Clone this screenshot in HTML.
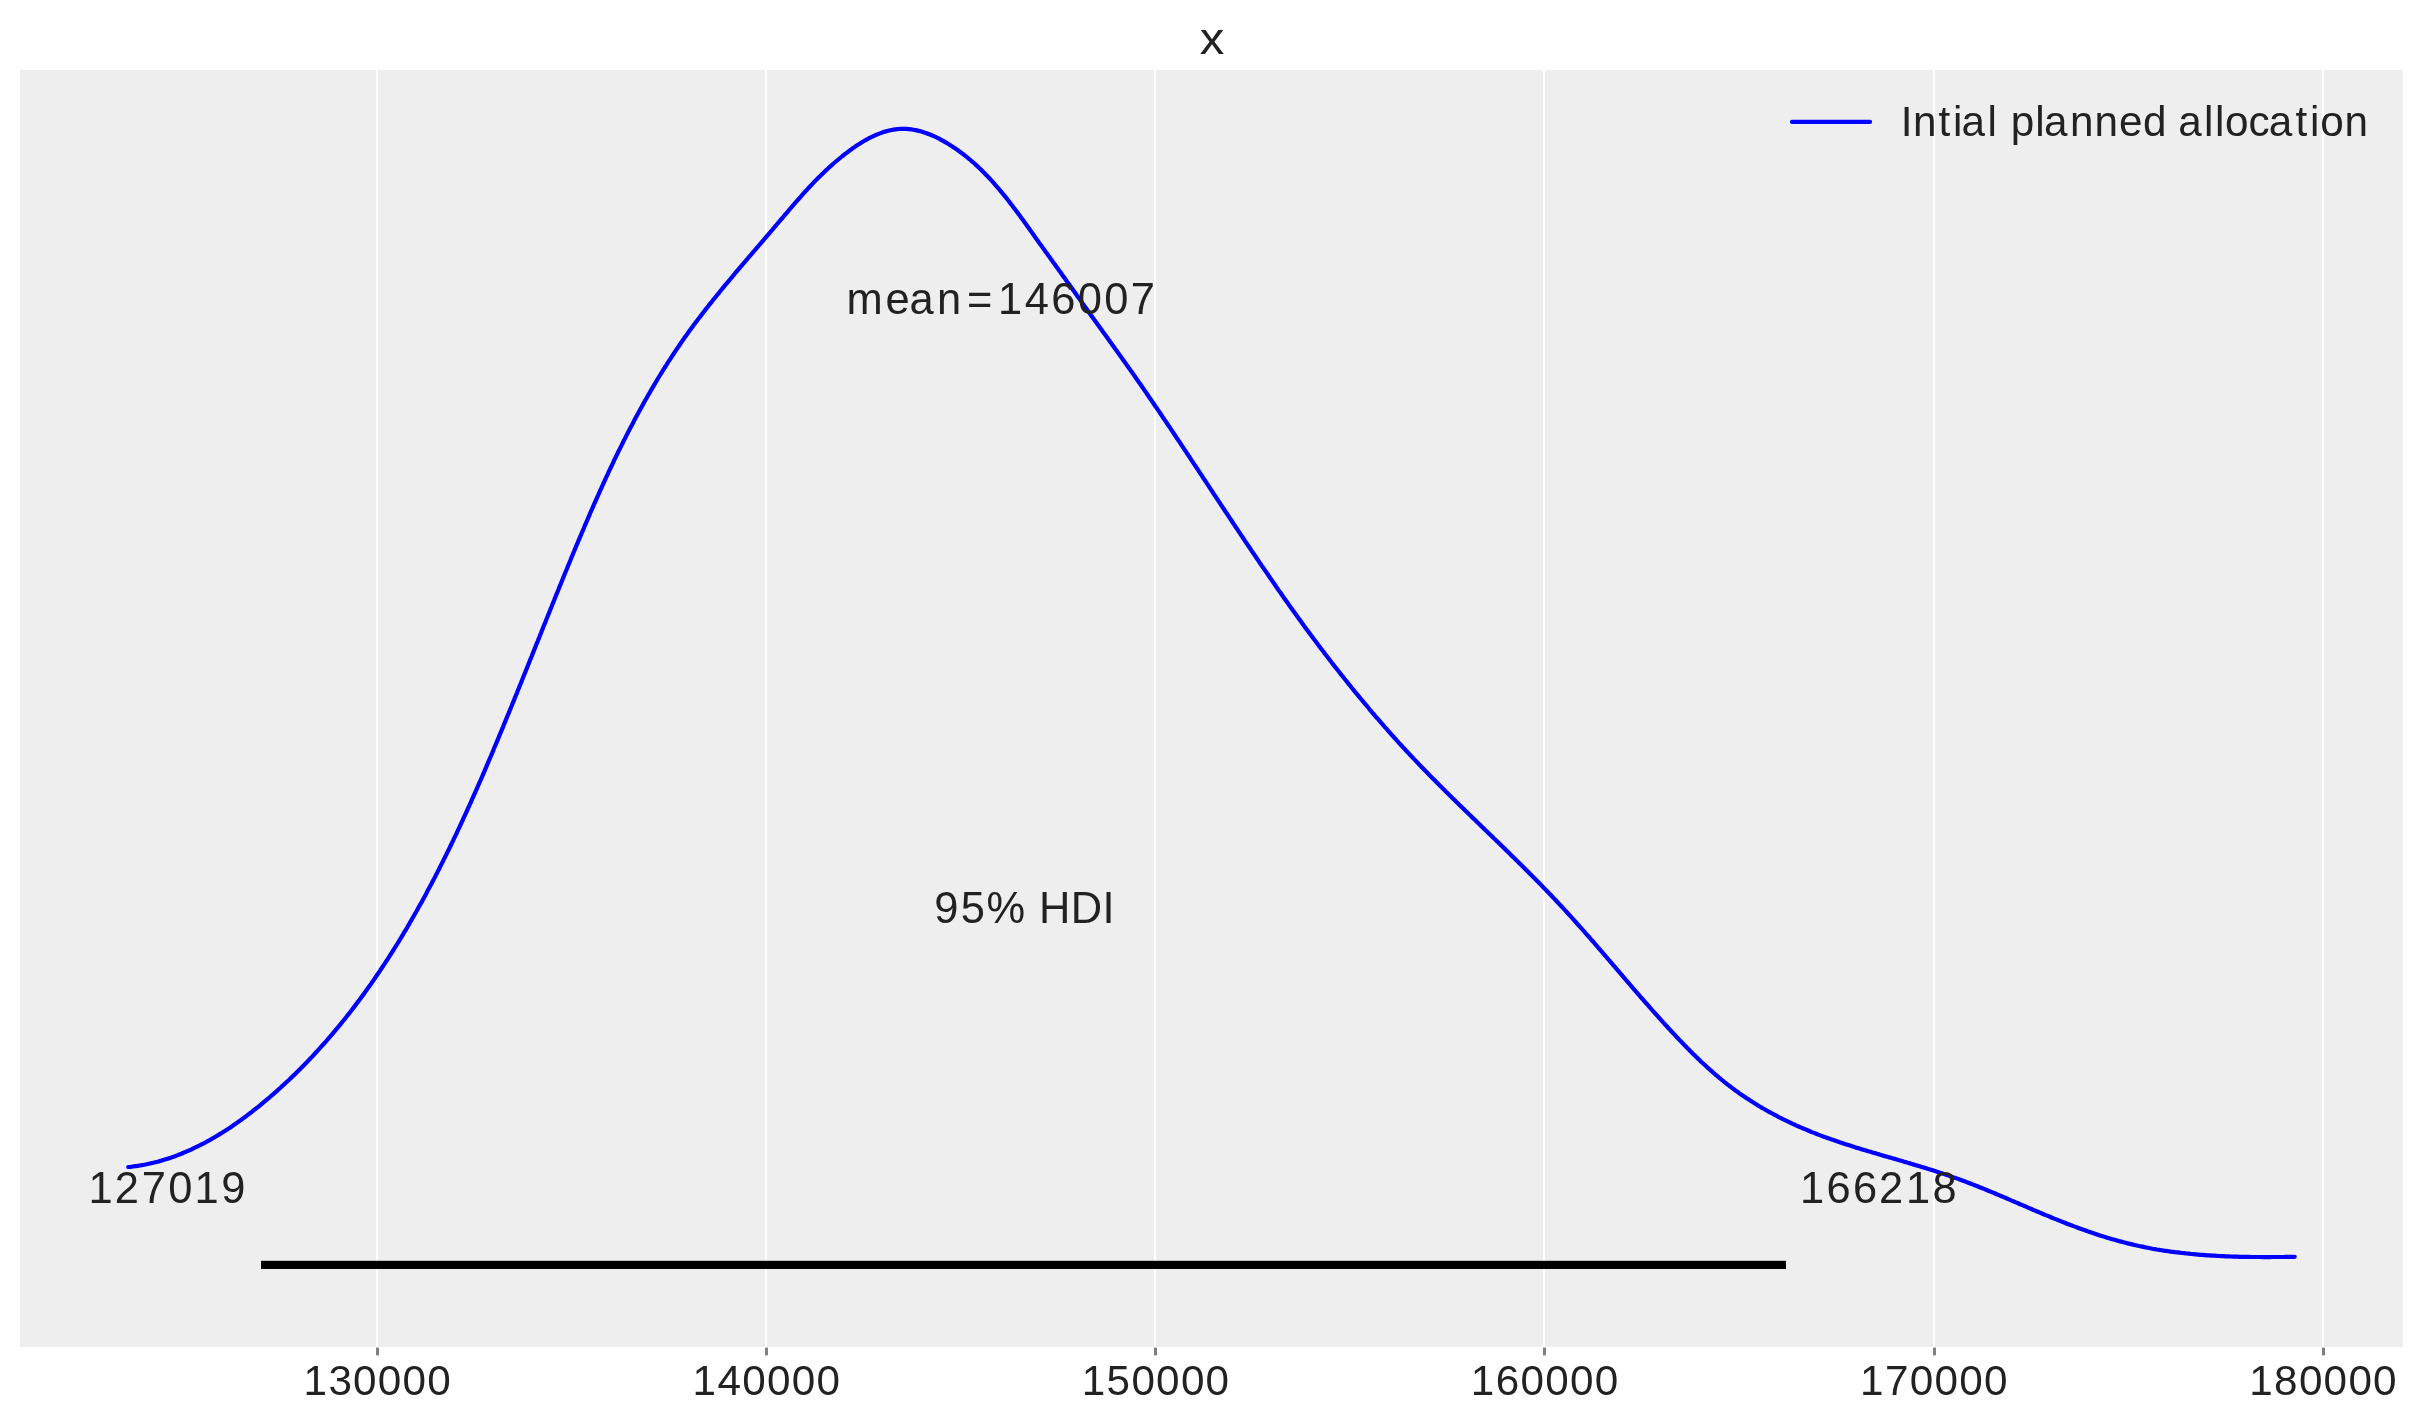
<!DOCTYPE html>
<html><head><meta charset="utf-8"><title>x</title>
<style>
html,body{margin:0;padding:0;background:#ffffff;}
svg{display:block;will-change:transform;}
text{font-family:"Liberation Sans",sans-serif;fill:#222222;}
</style></head>
<body>
<svg width="2423" height="1423" viewBox="0 0 2423 1423">
<rect x="0" y="0" width="2423" height="1423" fill="#ffffff"/>
<rect x="20" y="70" width="2383" height="1277" fill="#eeeeee"/>
<rect x="376" y="70" width="2" height="1277" fill="#ffffff"/>
<rect x="376" y="1347.6" width="3" height="7.8" fill="#808080"/>
<rect x="765" y="70" width="2" height="1277" fill="#ffffff"/>
<rect x="765" y="1347.6" width="3" height="7.8" fill="#808080"/>
<rect x="1154" y="70" width="2" height="1277" fill="#ffffff"/>
<rect x="1154" y="1347.6" width="3" height="7.8" fill="#808080"/>
<rect x="1543" y="70" width="2" height="1277" fill="#ffffff"/>
<rect x="1543" y="1347.6" width="3" height="7.8" fill="#808080"/>
<rect x="1933" y="70" width="2" height="1277" fill="#ffffff"/>
<rect x="1933" y="1347.6" width="3" height="7.8" fill="#808080"/>
<rect x="2322" y="70" width="2" height="1277" fill="#ffffff"/>
<rect x="2322" y="1347.6" width="3" height="7.8" fill="#808080"/>
<path d="M128.3,1167.0 L130.6,1166.8 L132.9,1166.5 L135.2,1166.2 L137.5,1165.9 L139.8,1165.5 L142.0,1165.1 L144.3,1164.7 L146.5,1164.3 L148.8,1163.8 L151.0,1163.3 L153.2,1162.8 L155.4,1162.2 L157.6,1161.7 L159.8,1161.1 L162.0,1160.4 L164.2,1159.8 L166.4,1159.1 L168.6,1158.4 L170.7,1157.7 L172.9,1156.9 L175.0,1156.2 L177.1,1155.4 L179.3,1154.5 L181.4,1153.7 L183.5,1152.8 L185.6,1151.9 L187.7,1151.0 L189.8,1150.1 L191.9,1149.2 L193.9,1148.2 L196.0,1147.2 L198.1,1146.2 L200.1,1145.2 L202.1,1144.1 L204.2,1143.1 L206.2,1142.0 L208.2,1140.9 L210.2,1139.8 L212.2,1138.6 L214.2,1137.5 L216.2,1136.3 L218.2,1135.1 L220.1,1133.9 L222.1,1132.7 L224.0,1131.5 L226.0,1130.2 L227.9,1129.0 L229.9,1127.7 L231.8,1126.4 L233.7,1125.1 L235.6,1123.8 L237.5,1122.4 L239.4,1121.1 L241.3,1119.7 L243.1,1118.4 L245.0,1117.0 L246.9,1115.6 L248.7,1114.2 L250.6,1112.8 L252.4,1111.4 L254.2,1109.9 L256.0,1108.5 L257.9,1107.1 L259.7,1105.6 L261.5,1104.1 L263.2,1102.7 L265.0,1101.2 L266.8,1099.7 L268.6,1098.2 L270.3,1096.7 L272.1,1095.2 L273.8,1093.6 L275.6,1092.1 L277.3,1090.6 L279.0,1089.0 L280.7,1087.5 L282.4,1085.9 L284.1,1084.4 L285.8,1082.8 L287.5,1081.2 L289.2,1079.7 L290.8,1078.1 L292.5,1076.5 L294.2,1074.9 L295.8,1073.3 L297.4,1071.7 L299.1,1070.0 L300.7,1068.4 L302.3,1066.8 L303.9,1065.2 L305.5,1063.5 L307.1,1061.9 L308.7,1060.2 L310.3,1058.5 L311.9,1056.9 L313.5,1055.2 L315.0,1053.5 L316.6,1051.8 L318.1,1050.1 L319.7,1048.4 L321.2,1046.7 L322.7,1045.0 L324.3,1043.3 L325.8,1041.6 L327.3,1039.9 L328.8,1038.1 L330.3,1036.4 L331.8,1034.7 L333.3,1032.9 L334.7,1031.2 L336.2,1029.4 L337.7,1027.6 L339.1,1025.9 L340.6,1024.1 L342.0,1022.3 L343.5,1020.5 L344.9,1018.8 L346.3,1017.0 L347.7,1015.2 L349.2,1013.4 L350.6,1011.5 L352.0,1009.7 L353.4,1007.9 L354.8,1006.1 L356.1,1004.3 L357.5,1002.4 L358.9,1000.6 L360.3,998.8 L361.6,996.9 L363.0,995.1 L364.3,993.2 L365.7,991.3 L367.0,989.5 L368.3,987.6 L369.7,985.7 L371.0,983.9 L372.3,982.0 L373.6,980.1 L374.9,978.2 L376.2,976.3 L377.5,974.4 L378.8,972.5 L380.1,970.6 L381.3,968.7 L382.6,966.8 L383.9,964.9 L385.1,963.0 L386.4,961.0 L387.7,959.1 L388.9,957.2 L390.1,955.2 L391.4,953.3 L392.6,951.4 L393.8,949.4 L395.0,947.5 L396.3,945.5 L397.5,943.5 L398.7,941.6 L399.9,939.6 L401.1,937.7 L402.3,935.7 L403.4,933.7 L404.6,931.7 L405.8,929.8 L407.0,927.8 L408.1,925.8 L409.3,923.8 L410.4,921.8 L411.6,919.8 L412.7,917.8 L413.9,915.8 L415.0,913.8 L416.2,911.8 L417.3,909.8 L418.4,907.8 L419.5,905.8 L420.6,903.8 L421.8,901.8 L422.9,899.7 L424.0,897.7 L425.1,895.7 L426.2,893.7 L427.2,891.6 L428.3,889.6 L429.4,887.6 L430.5,885.5 L431.6,883.5 L432.6,881.5 L433.7,879.4 L434.8,877.4 L435.8,875.3 L436.9,873.3 L437.9,871.2 L439.0,869.2 L440.0,867.1 L441.0,865.1 L442.1,863.0 L443.1,861.0 L444.1,858.9 L445.2,856.8 L446.2,854.8 L447.2,852.7 L448.2,850.7 L449.2,848.6 L450.2,846.5 L451.2,844.5 L452.2,842.4 L453.2,840.3 L454.2,838.2 L455.2,836.2 L456.2,834.1 L457.2,832.0 L458.1,829.9 L459.1,827.8 L460.1,825.8 L461.0,823.7 L462.0,821.6 L463.0,819.5 L463.9,817.4 L464.9,815.3 L465.8,813.3 L466.8,811.2 L467.7,809.1 L468.7,807.0 L469.6,804.9 L470.6,802.8 L471.5,800.7 L472.4,798.6 L473.4,796.5 L474.3,794.4 L475.2,792.3 L476.2,790.2 L477.1,788.1 L478.0,786.0 L478.9,783.9 L479.8,781.8 L480.8,779.7 L481.7,777.6 L482.6,775.5 L483.5,773.4 L484.4,771.3 L485.3,769.2 L486.2,767.1 L487.1,764.9 L488.0,762.8 L488.9,760.7 L489.8,758.6 L490.7,756.5 L491.6,754.4 L492.5,752.3 L493.4,750.1 L494.2,748.0 L495.1,745.9 L496.0,743.8 L496.9,741.7 L497.8,739.6 L498.7,737.4 L499.5,735.3 L500.4,733.2 L501.3,731.1 L502.2,728.9 L503.1,726.8 L503.9,724.7 L504.8,722.6 L505.7,720.4 L506.5,718.3 L507.4,716.2 L508.3,714.1 L509.2,711.9 L510.0,709.8 L510.9,707.7 L511.8,705.5 L512.6,703.4 L513.5,701.3 L514.4,699.2 L515.2,697.0 L516.1,694.9 L517.0,692.8 L517.8,690.6 L518.7,688.5 L519.5,686.4 L520.4,684.2 L521.3,682.1 L522.1,680.0 L523.0,677.8 L523.8,675.7 L524.7,673.6 L525.6,671.4 L526.4,669.3 L527.3,667.2 L528.1,665.0 L529.0,662.9 L529.8,660.7 L530.7,658.6 L531.6,656.5 L532.4,654.3 L533.3,652.2 L534.1,650.1 L535.0,647.9 L535.8,645.8 L536.7,643.6 L537.6,641.5 L538.4,639.4 L539.3,637.2 L540.1,635.1 L541.0,633.0 L541.8,630.8 L542.7,628.7 L543.5,626.5 L544.4,624.4 L545.3,622.3 L546.1,620.1 L547.0,618.0 L547.8,615.9 L548.7,613.7 L549.6,611.6 L550.4,609.4 L551.3,607.3 L552.1,605.2 L553.0,603.0 L553.9,600.9 L554.7,598.8 L555.6,596.6 L556.4,594.5 L557.3,592.4 L558.2,590.2 L559.0,588.1 L559.9,585.9 L560.8,583.8 L561.6,581.7 L562.5,579.5 L563.4,577.4 L564.2,575.3 L565.1,573.1 L566.0,571.0 L566.9,568.9 L567.7,566.7 L568.6,564.6 L569.5,562.5 L570.4,560.3 L571.2,558.2 L572.1,556.1 L573.0,554.0 L573.9,551.8 L574.8,549.7 L575.6,547.6 L576.5,545.4 L577.4,543.3 L578.3,541.2 L579.2,539.1 L580.1,536.9 L581.0,534.8 L581.9,532.7 L582.8,530.6 L583.7,528.5 L584.6,526.3 L585.5,524.2 L586.4,522.1 L587.3,520.0 L588.2,517.9 L589.1,515.8 L590.0,513.7 L590.9,511.5 L591.9,509.4 L592.8,507.3 L593.7,505.2 L594.6,503.1 L595.6,501.0 L596.5,498.9 L597.4,496.8 L598.4,494.7 L599.3,492.6 L600.2,490.5 L601.2,488.4 L602.1,486.3 L603.1,484.2 L604.0,482.1 L605.0,480.0 L605.9,478.0 L606.9,475.9 L607.9,473.8 L608.8,471.7 L609.8,469.6 L610.8,467.5 L611.8,465.5 L612.8,463.4 L613.7,461.3 L614.7,459.2 L615.7,457.2 L616.7,455.1 L617.7,453.1 L618.7,451.0 L619.8,448.9 L620.8,446.9 L621.8,444.8 L622.8,442.8 L623.8,440.7 L624.9,438.7 L625.9,436.6 L626.9,434.6 L628.0,432.5 L629.0,430.5 L630.1,428.5 L631.1,426.4 L632.2,424.4 L633.3,422.4 L634.3,420.3 L635.4,418.3 L636.5,416.3 L637.6,414.3 L638.7,412.3 L639.8,410.3 L640.9,408.3 L642.0,406.2 L643.1,404.2 L644.2,402.2 L645.3,400.2 L646.5,398.3 L647.6,396.3 L648.7,394.3 L649.9,392.3 L651.0,390.3 L652.2,388.3 L653.3,386.4 L654.5,384.4 L655.7,382.4 L656.8,380.5 L658.0,378.5 L659.2,376.5 L660.4,374.6 L661.6,372.6 L662.8,370.7 L664.0,368.7 L665.3,366.8 L666.5,364.9 L667.7,362.9 L668.9,361.0 L670.2,359.1 L671.4,357.1 L672.7,355.2 L674.0,353.3 L675.2,351.4 L676.5,349.5 L677.8,347.6 L679.1,345.7 L680.4,343.8 L681.7,341.9 L683.0,340.0 L684.3,338.1 L685.6,336.3 L687.0,334.4 L688.3,332.5 L689.7,330.6 L691.0,328.8 L692.4,326.9 L693.7,325.1 L695.1,323.2 L696.5,321.4 L697.9,319.5 L699.3,317.7 L700.7,315.9 L702.1,314.0 L703.5,312.2 L704.9,310.4 L706.3,308.6 L707.8,306.7 L709.2,304.9 L710.6,303.1 L712.1,301.3 L713.5,299.5 L715.0,297.7 L716.4,295.9 L717.9,294.1 L719.4,292.3 L720.8,290.5 L722.3,288.7 L723.8,286.9 L725.2,285.2 L726.7,283.4 L728.2,281.6 L729.7,279.8 L731.2,278.0 L732.7,276.3 L734.1,274.5 L735.6,272.7 L737.1,271.0 L738.6,269.2 L740.1,267.4 L741.6,265.7 L743.1,263.9 L744.6,262.2 L746.1,260.4 L747.6,258.6 L749.1,256.9 L750.6,255.1 L752.1,253.4 L753.6,251.6 L755.1,249.9 L756.6,248.1 L758.1,246.4 L759.6,244.7 L761.1,242.9 L762.6,241.2 L764.1,239.4 L765.6,237.7 L767.1,235.9 L768.6,234.2 L770.1,232.4 L771.6,230.7 L773.0,229.0 L774.5,227.2 L776.0,225.5 L777.5,223.7 L778.9,222.0 L780.4,220.2 L781.9,218.5 L783.4,216.8 L784.8,215.0 L786.3,213.3 L787.8,211.6 L789.2,209.8 L790.7,208.1 L792.2,206.4 L793.7,204.7 L795.2,202.9 L796.7,201.2 L798.2,199.5 L799.7,197.8 L801.2,196.1 L802.7,194.4 L804.2,192.7 L805.7,191.0 L807.3,189.4 L808.8,187.7 L810.4,186.0 L812.0,184.4 L813.5,182.7 L815.1,181.1 L816.7,179.4 L818.3,177.8 L820.0,176.2 L821.6,174.6 L823.3,173.0 L824.9,171.4 L826.6,169.8 L828.3,168.2 L830.0,166.6 L831.8,165.1 L833.5,163.5 L835.3,162.0 L837.1,160.5 L838.9,159.0 L840.7,157.5 L842.5,156.0 L844.4,154.5 L846.3,153.1 L848.2,151.6 L850.1,150.2 L852.1,148.8 L854.0,147.4 L856.0,146.1 L858.0,144.8 L860.0,143.5 L862.0,142.2 L864.0,141.0 L866.1,139.9 L868.1,138.7 L870.2,137.7 L872.3,136.6 L874.4,135.7 L876.5,134.7 L878.6,133.9 L880.7,133.1 L882.9,132.3 L885.0,131.6 L887.2,131.0 L889.3,130.5 L891.5,130.0 L893.7,129.6 L895.8,129.3 L898.0,129.0 L900.2,128.9 L902.4,128.8 L904.6,128.8 L906.8,128.9 L909.0,129.1 L911.1,129.3 L913.3,129.7 L915.5,130.1 L917.7,130.6 L919.9,131.1 L922.0,131.7 L924.2,132.4 L926.4,133.2 L928.5,134.0 L930.6,134.8 L932.8,135.7 L934.9,136.7 L937.0,137.7 L939.1,138.7 L941.1,139.8 L943.2,140.9 L945.2,142.1 L947.2,143.3 L949.2,144.5 L951.1,145.7 L953.1,147.0 L955.0,148.3 L956.9,149.6 L958.8,150.9 L960.6,152.3 L962.4,153.6 L964.3,155.0 L966.1,156.5 L967.8,157.9 L969.6,159.3 L971.3,160.8 L973.1,162.3 L974.8,163.8 L976.4,165.4 L978.1,166.9 L979.8,168.5 L981.4,170.1 L983.0,171.7 L984.6,173.3 L986.2,175.0 L987.8,176.6 L989.4,178.3 L990.9,179.9 L992.5,181.6 L994.0,183.3 L995.5,185.1 L997.0,186.8 L998.5,188.5 L1000.0,190.3 L1001.5,192.1 L1002.9,193.8 L1004.4,195.6 L1005.8,197.4 L1007.3,199.2 L1008.7,201.0 L1010.1,202.9 L1011.5,204.7 L1012.9,206.5 L1014.3,208.4 L1015.7,210.2 L1017.1,212.1 L1018.5,214.0 L1019.9,215.8 L1021.2,217.7 L1022.6,219.6 L1024.0,221.5 L1025.3,223.3 L1026.7,225.2 L1028.0,227.1 L1029.4,229.0 L1030.8,230.9 L1032.1,232.8 L1033.5,234.7 L1034.8,236.6 L1036.1,238.5 L1037.5,240.4 L1038.8,242.3 L1040.2,244.2 L1041.6,246.0 L1042.9,247.9 L1044.3,249.8 L1045.6,251.7 L1047.0,253.6 L1048.3,255.5 L1049.7,257.3 L1051.0,259.2 L1052.4,261.1 L1053.7,263.0 L1055.1,264.8 L1056.4,266.7 L1057.8,268.6 L1059.1,270.5 L1060.5,272.3 L1061.8,274.2 L1063.1,276.1 L1064.5,277.9 L1065.8,279.8 L1067.1,281.7 L1068.5,283.5 L1069.8,285.4 L1071.1,287.3 L1072.4,289.1 L1073.8,291.0 L1075.1,292.8 L1076.4,294.7 L1077.7,296.6 L1079.1,298.4 L1080.4,300.3 L1081.7,302.1 L1083.0,304.0 L1084.4,305.9 L1085.7,307.7 L1087.0,309.6 L1088.3,311.4 L1089.7,313.3 L1091.0,315.2 L1092.3,317.0 L1093.7,318.9 L1095.0,320.7 L1096.3,322.6 L1097.7,324.5 L1099.0,326.3 L1100.4,328.2 L1101.7,330.0 L1103.0,331.9 L1104.4,333.8 L1105.7,335.6 L1107.1,337.5 L1108.4,339.3 L1109.7,341.2 L1111.1,343.1 L1112.4,344.9 L1113.8,346.8 L1115.1,348.7 L1116.5,350.5 L1117.8,352.4 L1119.1,354.3 L1120.5,356.1 L1121.8,358.0 L1123.1,359.9 L1124.5,361.7 L1125.8,363.6 L1127.1,365.5 L1128.5,367.4 L1129.8,369.3 L1131.1,371.1 L1132.5,373.0 L1133.8,374.9 L1135.1,376.8 L1136.4,378.7 L1137.7,380.5 L1139.0,382.4 L1140.4,384.3 L1141.7,386.2 L1143.0,388.1 L1144.3,390.0 L1145.6,391.9 L1146.9,393.8 L1148.2,395.7 L1149.5,397.6 L1150.8,399.5 L1152.1,401.4 L1153.4,403.3 L1154.7,405.2 L1156.0,407.1 L1157.3,409.0 L1158.6,410.9 L1159.9,412.8 L1161.2,414.7 L1162.4,416.6 L1163.7,418.5 L1165.0,420.4 L1166.3,422.3 L1167.6,424.2 L1168.9,426.1 L1170.2,428.0 L1171.4,429.9 L1172.7,431.8 L1174.0,433.8 L1175.3,435.7 L1176.5,437.6 L1177.8,439.5 L1179.1,441.4 L1180.4,443.3 L1181.6,445.2 L1182.9,447.1 L1184.2,449.1 L1185.5,451.0 L1186.7,452.9 L1188.0,454.8 L1189.3,456.7 L1190.5,458.6 L1191.8,460.6 L1193.1,462.5 L1194.3,464.4 L1195.6,466.3 L1196.9,468.2 L1198.2,470.2 L1199.4,472.1 L1200.7,474.0 L1202.0,475.9 L1203.2,477.8 L1204.5,479.8 L1205.8,481.7 L1207.0,483.6 L1208.3,485.5 L1209.5,487.4 L1210.8,489.4 L1212.1,491.3 L1213.3,493.2 L1214.6,495.1 L1215.9,497.0 L1217.1,498.9 L1218.4,500.9 L1219.7,502.8 L1220.9,504.7 L1222.2,506.6 L1223.5,508.5 L1224.8,510.5 L1226.0,512.4 L1227.3,514.3 L1228.6,516.2 L1229.8,518.1 L1231.1,520.0 L1232.4,522.0 L1233.6,523.9 L1234.9,525.8 L1236.2,527.7 L1237.5,529.6 L1238.7,531.5 L1240.0,533.4 L1241.3,535.4 L1242.6,537.3 L1243.9,539.2 L1245.1,541.1 L1246.4,543.0 L1247.7,544.9 L1249.0,546.8 L1250.3,548.7 L1251.5,550.6 L1252.8,552.5 L1254.1,554.4 L1255.4,556.3 L1256.7,558.2 L1258.0,560.1 L1259.3,562.1 L1260.6,564.0 L1261.9,565.9 L1263.2,567.7 L1264.5,569.6 L1265.8,571.5 L1267.1,573.4 L1268.4,575.3 L1269.7,577.2 L1271.0,579.1 L1272.3,581.0 L1273.6,582.9 L1274.9,584.8 L1276.2,586.7 L1277.5,588.6 L1278.8,590.5 L1280.2,592.3 L1281.5,594.2 L1282.8,596.1 L1284.1,598.0 L1285.4,599.9 L1286.8,601.7 L1288.1,603.6 L1289.4,605.5 L1290.8,607.4 L1292.1,609.2 L1293.4,611.1 L1294.8,613.0 L1296.1,614.8 L1297.5,616.7 L1298.8,618.6 L1300.2,620.4 L1301.5,622.3 L1302.9,624.2 L1304.2,626.0 L1305.6,627.9 L1306.9,629.7 L1308.3,631.6 L1309.7,633.4 L1311.0,635.3 L1312.4,637.1 L1313.8,639.0 L1315.2,640.8 L1316.5,642.6 L1317.9,644.5 L1319.3,646.3 L1320.7,648.2 L1322.1,650.0 L1323.5,651.8 L1324.9,653.7 L1326.3,655.5 L1327.7,657.3 L1329.1,659.1 L1330.5,661.0 L1331.9,662.8 L1333.3,664.6 L1334.7,666.4 L1336.1,668.2 L1337.6,670.0 L1339.0,671.8 L1340.4,673.6 L1341.8,675.4 L1343.3,677.2 L1344.7,679.0 L1346.2,680.8 L1347.6,682.6 L1349.0,684.4 L1350.5,686.2 L1351.9,688.0 L1353.4,689.8 L1354.8,691.6 L1356.3,693.4 L1357.8,695.1 L1359.2,696.9 L1360.7,698.7 L1362.2,700.4 L1363.6,702.2 L1365.1,704.0 L1366.6,705.7 L1368.1,707.5 L1369.5,709.3 L1371.0,711.0 L1372.5,712.8 L1374.0,714.5 L1375.5,716.3 L1377.0,718.0 L1378.5,719.7 L1380.0,721.5 L1381.5,723.2 L1383.0,724.9 L1384.5,726.7 L1386.1,728.4 L1387.6,730.1 L1389.1,731.8 L1390.6,733.5 L1392.1,735.3 L1393.7,737.0 L1395.2,738.7 L1396.7,740.4 L1398.3,742.1 L1399.8,743.8 L1401.4,745.5 L1402.9,747.2 L1404.5,748.8 L1406.0,750.5 L1407.6,752.2 L1409.2,753.9 L1410.7,755.6 L1412.3,757.2 L1413.9,758.9 L1415.5,760.6 L1417.1,762.2 L1418.6,763.9 L1420.2,765.5 L1421.8,767.2 L1423.4,768.8 L1425.0,770.5 L1426.6,772.1 L1428.2,773.8 L1429.8,775.4 L1431.4,777.1 L1433.1,778.7 L1434.7,780.3 L1436.3,782.0 L1437.9,783.6 L1439.5,785.2 L1441.1,786.8 L1442.8,788.5 L1444.4,790.1 L1446.0,791.7 L1447.7,793.3 L1449.3,794.9 L1450.9,796.5 L1452.6,798.2 L1454.2,799.8 L1455.9,801.4 L1457.5,803.0 L1459.1,804.6 L1460.8,806.2 L1462.4,807.8 L1464.1,809.4 L1465.7,811.0 L1467.4,812.6 L1469.0,814.2 L1470.7,815.8 L1472.3,817.4 L1474.0,819.0 L1475.6,820.6 L1477.3,822.2 L1478.9,823.8 L1480.6,825.4 L1482.2,827.0 L1483.9,828.6 L1485.5,830.2 L1487.2,831.8 L1488.8,833.4 L1490.5,835.0 L1492.2,836.6 L1493.8,838.2 L1495.5,839.8 L1497.1,841.4 L1498.8,843.0 L1500.4,844.6 L1502.1,846.2 L1503.7,847.8 L1505.4,849.4 L1507.0,851.0 L1508.6,852.6 L1510.3,854.3 L1511.9,855.9 L1513.6,857.5 L1515.2,859.1 L1516.9,860.7 L1518.5,862.3 L1520.1,863.9 L1521.8,865.5 L1523.4,867.2 L1525.0,868.8 L1526.6,870.4 L1528.3,872.0 L1529.9,873.7 L1531.5,875.3 L1533.1,876.9 L1534.8,878.6 L1536.4,880.2 L1538.0,881.8 L1539.6,883.5 L1541.2,885.1 L1542.8,886.8 L1544.4,888.4 L1546.0,890.1 L1547.6,891.7 L1549.2,893.4 L1550.8,895.0 L1552.4,896.7 L1554.0,898.4 L1555.5,900.0 L1557.1,901.7 L1558.7,903.4 L1560.2,905.1 L1561.8,906.7 L1563.4,908.4 L1564.9,910.1 L1566.5,911.8 L1568.0,913.5 L1569.6,915.2 L1571.1,916.9 L1572.7,918.6 L1574.2,920.3 L1575.7,922.0 L1577.3,923.8 L1578.8,925.5 L1580.3,927.2 L1581.9,928.9 L1583.4,930.6 L1584.9,932.4 L1586.4,934.1 L1587.9,935.8 L1589.5,937.5 L1591.0,939.3 L1592.5,941.0 L1594.0,942.7 L1595.5,944.5 L1597.0,946.2 L1598.5,948.0 L1600.0,949.7 L1601.5,951.4 L1603.0,953.2 L1604.5,954.9 L1606.0,956.7 L1607.5,958.4 L1609.0,960.2 L1610.5,961.9 L1612.0,963.7 L1613.5,965.4 L1615.0,967.1 L1616.5,968.9 L1618.0,970.6 L1619.5,972.4 L1621.0,974.1 L1622.5,975.9 L1624.0,977.6 L1625.5,979.4 L1627.0,981.1 L1628.5,982.9 L1630.0,984.6 L1631.5,986.3 L1633.0,988.1 L1634.5,989.8 L1636.0,991.6 L1637.5,993.3 L1639.0,995.0 L1640.5,996.8 L1642.0,998.5 L1643.5,1000.2 L1645.0,1002.0 L1646.6,1003.7 L1648.1,1005.4 L1649.6,1007.2 L1651.1,1008.9 L1652.6,1010.6 L1654.2,1012.3 L1655.7,1014.0 L1657.2,1015.7 L1658.8,1017.5 L1660.3,1019.2 L1661.8,1020.9 L1663.4,1022.6 L1664.9,1024.3 L1666.5,1026.0 L1668.0,1027.7 L1669.6,1029.4 L1671.1,1031.0 L1672.7,1032.7 L1674.3,1034.4 L1675.9,1036.1 L1677.4,1037.8 L1679.0,1039.4 L1680.6,1041.1 L1682.2,1042.7 L1683.8,1044.4 L1685.4,1046.0 L1687.0,1047.7 L1688.6,1049.3 L1690.2,1051.0 L1691.8,1052.6 L1693.5,1054.2 L1695.1,1055.8 L1696.7,1057.4 L1698.4,1059.0 L1700.0,1060.6 L1701.7,1062.2 L1703.4,1063.7 L1705.1,1065.3 L1706.7,1066.8 L1708.4,1068.4 L1710.2,1069.9 L1711.9,1071.4 L1713.6,1073.0 L1715.3,1074.5 L1717.1,1075.9 L1718.8,1077.4 L1720.6,1078.9 L1722.4,1080.3 L1724.1,1081.8 L1725.9,1083.2 L1727.7,1084.6 L1729.6,1086.0 L1731.4,1087.4 L1733.2,1088.8 L1735.1,1090.2 L1737.0,1091.5 L1738.8,1092.9 L1740.7,1094.2 L1742.6,1095.5 L1744.5,1096.8 L1746.4,1098.1 L1748.4,1099.3 L1750.3,1100.6 L1752.2,1101.8 L1754.2,1103.1 L1756.2,1104.3 L1758.1,1105.5 L1760.1,1106.7 L1762.1,1107.9 L1764.1,1109.0 L1766.1,1110.2 L1768.1,1111.3 L1770.1,1112.4 L1772.2,1113.5 L1774.2,1114.6 L1776.3,1115.7 L1778.3,1116.8 L1780.4,1117.8 L1782.4,1118.9 L1784.5,1119.9 L1786.6,1120.9 L1788.6,1121.9 L1790.7,1122.9 L1792.8,1123.9 L1794.9,1124.8 L1797.0,1125.8 L1799.1,1126.7 L1801.2,1127.6 L1803.3,1128.5 L1805.5,1129.4 L1807.6,1130.3 L1809.7,1131.2 L1811.8,1132.1 L1814.0,1132.9 L1816.1,1133.7 L1818.2,1134.6 L1820.4,1135.4 L1822.5,1136.2 L1824.7,1137.0 L1826.8,1137.7 L1829.0,1138.5 L1831.1,1139.3 L1833.3,1140.0 L1835.5,1140.8 L1837.6,1141.5 L1839.8,1142.3 L1842.0,1143.0 L1844.1,1143.7 L1846.3,1144.4 L1848.5,1145.1 L1850.7,1145.8 L1852.9,1146.5 L1855.0,1147.2 L1857.2,1147.9 L1859.4,1148.5 L1861.6,1149.2 L1863.8,1149.9 L1866.0,1150.5 L1868.2,1151.2 L1870.4,1151.8 L1872.6,1152.5 L1874.8,1153.1 L1877.0,1153.8 L1879.2,1154.4 L1881.4,1155.1 L1883.6,1155.7 L1885.8,1156.4 L1888.0,1157.0 L1890.2,1157.6 L1892.4,1158.3 L1894.6,1158.9 L1896.8,1159.5 L1899.0,1160.2 L1901.2,1160.8 L1903.4,1161.5 L1905.6,1162.1 L1907.8,1162.8 L1910.0,1163.4 L1912.2,1164.1 L1914.4,1164.7 L1916.6,1165.4 L1918.8,1166.0 L1921.0,1166.7 L1923.2,1167.4 L1925.4,1168.0 L1927.6,1168.7 L1929.8,1169.4 L1932.0,1170.1 L1934.1,1170.8 L1936.3,1171.5 L1938.5,1172.2 L1940.7,1172.9 L1942.9,1173.6 L1945.1,1174.4 L1947.2,1175.1 L1949.4,1175.9 L1951.6,1176.6 L1953.8,1177.4 L1955.9,1178.1 L1958.1,1178.9 L1960.3,1179.7 L1962.4,1180.5 L1964.6,1181.3 L1966.7,1182.1 L1968.9,1183.0 L1971.0,1183.8 L1973.2,1184.6 L1975.3,1185.5 L1977.5,1186.3 L1979.6,1187.2 L1981.8,1188.0 L1983.9,1188.9 L1986.1,1189.8 L1988.2,1190.7 L1990.3,1191.5 L1992.5,1192.4 L1994.6,1193.3 L1996.7,1194.2 L1998.9,1195.1 L2001.0,1196.0 L2003.1,1196.9 L2005.3,1197.8 L2007.4,1198.7 L2009.5,1199.6 L2011.6,1200.6 L2013.8,1201.5 L2015.9,1202.4 L2018.0,1203.3 L2020.1,1204.2 L2022.3,1205.1 L2024.4,1206.0 L2026.5,1206.9 L2028.6,1207.9 L2030.8,1208.8 L2032.9,1209.7 L2035.0,1210.6 L2037.1,1211.5 L2039.3,1212.4 L2041.4,1213.3 L2043.5,1214.2 L2045.7,1215.1 L2047.8,1215.9 L2049.9,1216.8 L2052.0,1217.7 L2054.2,1218.6 L2056.3,1219.4 L2058.4,1220.3 L2060.6,1221.1 L2062.7,1222.0 L2064.9,1222.8 L2067.0,1223.7 L2069.1,1224.5 L2071.3,1225.3 L2073.4,1226.1 L2075.6,1226.9 L2077.7,1227.7 L2079.9,1228.5 L2082.0,1229.3 L2084.2,1230.0 L2086.3,1230.8 L2088.5,1231.6 L2090.6,1232.3 L2092.8,1233.0 L2095.0,1233.8 L2097.1,1234.5 L2099.3,1235.2 L2101.5,1235.9 L2103.7,1236.6 L2105.8,1237.2 L2108.0,1237.9 L2110.2,1238.6 L2112.4,1239.2 L2114.6,1239.8 L2116.8,1240.4 L2119.0,1241.1 L2121.2,1241.6 L2123.4,1242.2 L2125.6,1242.8 L2127.8,1243.4 L2130.0,1243.9 L2132.2,1244.4 L2134.5,1245.0 L2136.7,1245.5 L2138.9,1246.0 L2141.2,1246.4 L2143.4,1246.9 L2145.6,1247.4 L2147.9,1247.8 L2150.1,1248.2 L2152.4,1248.7 L2154.7,1249.1 L2156.9,1249.5 L2159.2,1249.8 L2161.5,1250.2 L2163.7,1250.6 L2166.0,1250.9 L2168.3,1251.2 L2170.6,1251.6 L2172.8,1251.9 L2175.1,1252.2 L2177.4,1252.4 L2179.7,1252.7 L2182.0,1253.0 L2184.3,1253.2 L2186.6,1253.5 L2188.9,1253.7 L2191.2,1254.0 L2193.5,1254.2 L2195.8,1254.4 L2198.1,1254.6 L2200.4,1254.8 L2202.7,1254.9 L2205.0,1255.1 L2207.3,1255.3 L2209.6,1255.4 L2211.9,1255.6 L2214.3,1255.7 L2216.6,1255.8 L2218.9,1256.0 L2221.2,1256.1 L2223.5,1256.2 L2225.8,1256.3 L2228.1,1256.4 L2230.4,1256.5 L2232.8,1256.6 L2235.1,1256.6 L2237.4,1256.7 L2239.7,1256.8 L2242.0,1256.8 L2244.3,1256.9 L2246.6,1256.9 L2248.9,1256.9 L2251.2,1257.0 L2253.5,1257.0 L2255.8,1257.0 L2258.1,1257.0 L2260.4,1257.0 L2262.7,1257.1 L2265.0,1257.1 L2267.3,1257.1 L2269.6,1257.1 L2271.9,1257.0 L2274.2,1257.0 L2276.5,1257.0 L2278.8,1257.0 L2281.1,1257.0 L2283.3,1257.0 L2285.6,1256.9 L2287.9,1256.9 L2290.2,1256.9 L2292.4,1256.8 L2294.7,1256.8" fill="none" stroke="#0000ff" stroke-width="4.2" stroke-linecap="round" stroke-linejoin="round"/>
<rect x="261" y="1260.8" width="1525" height="8.2" fill="#000000"/>
<line x1="1792" y1="121.9" x2="1870" y2="121.9" stroke="#0000ff" stroke-width="4.2" stroke-linecap="round"/>
<g transform="translate(1212.1,0) scale(1.11,1) translate(-1212.1,0)"><text x="1200.9" y="54.0" font-size="44.26">x</text></g>
<text x="303.4 328.4 353.1 377.8 402.6 427.3" y="1394.7" font-size="42.24">130000</text>
<text x="692.5 717.5 742.2 767.0 791.7 816.5" y="1394.7" font-size="42.24">140000</text>
<text x="1081.7 1106.5 1131.4 1156.1 1180.9 1205.6" y="1394.7" font-size="42.24">150000</text>
<text x="1470.8 1495.8 1520.6 1545.3 1570.0 1594.8" y="1394.7" font-size="42.24">160000</text>
<text x="1860.0 1884.9 1909.7 1934.5 1959.2 1983.9" y="1394.7" font-size="42.24">170000</text>
<text x="2249.2 2274.1 2298.9 2323.6 2348.4 2373.1" y="1394.7" font-size="42.24">180000</text>
<text x="846.4 885.5 909.4 937.0 967.0 998.1 1024.8 1051.3 1077.8 1104.3 1130.8" y="314.0" font-size="43.45">mean=146007</text>
<text x="934.2 960.7 986.6 1025.8 1039.0 1070.8 1102.5" y="923.0" font-size="43.45">95% HDI</text>
<text x="88.6 114.7 141.7 168.3 194.6 221.2" y="1203.0" font-size="43.45">127019</text>
<text x="1799.9 1826.6 1853.1 1879.1 1905.9 1932.6" y="1203.0" font-size="43.45">166218</text>
<text x="1900.7 1912.9 1938.6 1952.9 1961.6 1987.5 1997.6 2010.8 2035.3 2044.1 2069.9 2094.6 2118.9 2142.9 2167.2 2178.2 2204.1 2214.9 2225.1 2248.4 2268.8 2295.6 2310.0 2320.2 2344.5" y="136.0" font-size="42.24">Intial planned allocation</text>
</svg>
</body></html>
